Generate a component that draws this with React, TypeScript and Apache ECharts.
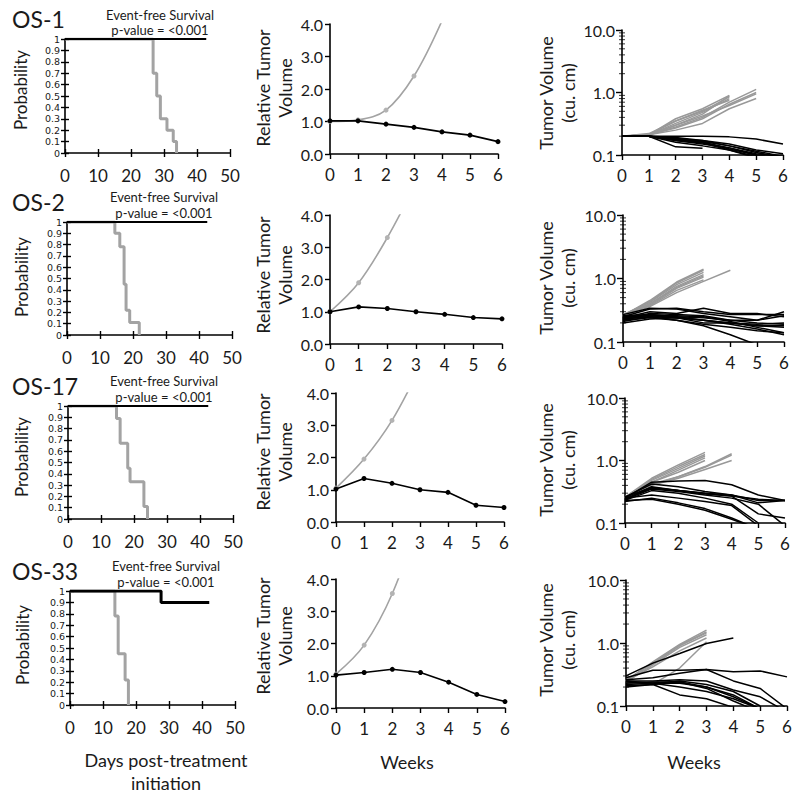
import React, { useEffect, useRef } from "react";
import * as echarts from "echarts";

const FONT = "Lato, 'Open Sans', sans-serif";
const WIDE = "'DejaVu Sans', sans-serif";
const TXT = "#1a1a1a";
const GRAY = "#a3a3a3";

const models = ["OS-1", "OS-2", "OS-17", "OS-33"];
const weeks = [0, 1, 2, 3, 4, 5, 6];
const kmTicks = [0, 10, 20, 30, 40, 50];

// Kaplan-Meier: [day, probability]
const kmControl1 = [[0, 1], [26.7, 0.7], [27.8, 0.5], [28.9, 0.3], [30.9, 0.2], [32.8, 0.1], [33.8, 0]];
const kmTreated1 = [[0, 1], [42.8, 1]];
const kmControl2 = [[0, 1], [14.5, 0.9], [16, 0.78], [17.3, 0.45], [17.9, 0.22], [19, 0.11], [21.9, 0]];
const kmTreated2 = [[0, 1], [42.5, 1]];
const kmControl3 = [[0, 1], [14.7, 0.89], [15.8, 0.67], [18.1, 0.45], [18.8, 0.33], [23, 0.11], [24.1, 0]];
const kmTreated3 = [[0, 1], [42.5, 1]];
const kmControl4 = [[0, 1], [13.6, 0.78], [14.6, 0.45], [16.7, 0.22], [17.7, 0]];
const kmTreated4 = [[0, 1], [27.6, 0.9], [42.2, 0.9]];

// Relative tumor volume by week
const rtvControl1 = [1.0, 1.05, 1.35, 2.4, 4.1];
const rtvTreated1 = [1.02, 1.02, 0.92, 0.82, 0.68, 0.58, 0.38];
const rtvControl2 = [1.0, 1.9, 3.3, 5.0];
const rtvTreated2 = [1.0, 1.15, 1.1, 1.0, 0.92, 0.82, 0.78];
const rtvControl3 = [1.05, 1.95, 3.15, 4.8];
const rtvTreated3 = [1.02, 1.35, 1.2, 1.0, 0.92, 0.52, 0.45];
const rtvControl4 = [1.05, 1.95, 3.55, 6.0];
const rtvTreated4 = [1.02, 1.1, 1.2, 1.1, 0.8, 0.42, 0.2];

// Individual tumor volumes (cu. cm) by week
const tvControl1 = [
  [0.2, 0.21, 0.38, 0.55, 0.9],
  [0.2, 0.21, 0.35, 0.5, 0.85],
  [0.2, 0.21, 0.32, 0.48, 0.8],
  [0.2, 0.21, 0.3, 0.45, 0.88],
  [0.2, 0.22, 0.35, 0.52, 0.75],
  [0.2, 0.21, 0.28, 0.4, 0.7, 1.12],
  [0.2, 0.21, 0.27, 0.38, 0.65, 1.0],
  [0.2, 0.21, 0.25, 0.32, 0.55, 0.8],
  [0.2, 0.21, 0.3, 0.42, 0.62, 0.95],
];
const tvTreated1 = [
  [0.2, 0.2, 0.2, 0.2, 0.195, 0.18, 0.15],
  [0.2, 0.2, 0.19, 0.17, 0.15, 0.12, 0.105],
  [0.2, 0.2, 0.135, 0.128],
  [0.2, 0.2, 0.17, 0.15, 0.13, 0.1, 0.09],
  [0.2, 0.2, 0.18, 0.16, 0.13, 0.105, 0.095],
  [0.2, 0.2, 0.16, 0.14, 0.12, 0.095],
  [0.2, 0.2, 0.18, 0.17, 0.14, 0.11, 0.09],
  [0.2, 0.2, 0.175, 0.16, 0.125, 0.1],
  [0.2, 0.2, 0.185, 0.165, 0.14, 0.115, 0.095],
  [0.2, 0.2, 0.17, 0.155, 0.12, 0.09],
];
const tvControl2 = [
  [0.26, 0.45, 0.88, 1.4],
  [0.26, 0.43, 0.85, 1.35],
  [0.27, 0.42, 0.8, 1.25],
  [0.25, 0.4, 0.75, 1.15],
  [0.26, 0.4, 0.72, 1.1],
  [0.25, 0.38, 0.7, 1.05],
  [0.26, 0.37, 0.65, 0.95],
  [0.27, 0.36, 0.6, 0.9, 1.35],
];
const tvTreated2 = [
  [0.25, 0.33, 0.34, 0.3, 0.27, 0.27, 0.27],
  [0.27, 0.34, 0.33, 0.28, 0.25, 0.22, 0.3],
  [0.24, 0.3, 0.28, 0.34, 0.28, 0.28, 0.25],
  [0.23, 0.28, 0.27, 0.26, 0.22, 0.22, 0.26],
  [0.22, 0.27, 0.25, 0.24, 0.22, 0.2, 0.19],
  [0.21, 0.25, 0.24, 0.22, 0.2, 0.18, 0.17],
  [0.25, 0.26, 0.26, 0.25, 0.21, 0.17, 0.14],
  [0.26, 0.27, 0.25, 0.22, 0.19, 0.16, 0.13],
  [0.22, 0.24, 0.22, 0.19, 0.17, 0.15, 0.14],
  [0.23, 0.25, 0.22, 0.18, 0.13, 0.09],
  [0.2, 0.23, 0.24, 0.22, 0.2, 0.19, 0.2],
  [0.24, 0.26, 0.24, 0.2, 0.2, 0.18, 0.18],
];
const tvControl3 = [
  [0.26, 0.52, 0.85, 1.35],
  [0.25, 0.5, 0.8, 1.25],
  [0.25, 0.48, 0.75, 1.18],
  [0.24, 0.45, 0.7, 1.1],
  [0.26, 0.45, 0.65, 1.0],
  [0.25, 0.42, 0.55, 0.8, 1.28],
  [0.24, 0.4, 0.55, 0.78, 1.22],
  [0.25, 0.4, 0.52, 0.72, 1.0],
];
const tvTreated3 = [
  [0.25, 0.45, 0.47, 0.48, 0.41, 0.28, 0.23],
  [0.26, 0.42, 0.38, 0.32, 0.28, 0.23, 0.23],
  [0.24, 0.38, 0.33, 0.3, 0.27, 0.24, 0.23],
  [0.26, 0.37, 0.33, 0.29, 0.27, 0.14, 0.12],
  [0.24, 0.35, 0.32, 0.28, 0.25, 0.2, 0.09],
  [0.23, 0.33, 0.3, 0.25, 0.2, 0.1],
  [0.22, 0.25, 0.21, 0.17, 0.12, 0.08],
  [0.23, 0.24, 0.2, 0.16, 0.115, 0.08],
  [0.25, 0.28, 0.25, 0.22, 0.19, 0.09],
  [0.24, 0.36, 0.33, 0.3, 0.28, 0.21, 0.23],
];
const tvControl4 = [
  [0.25, 0.5, 0.95, 1.6],
  [0.25, 0.48, 0.92, 1.5],
  [0.26, 0.47, 0.9, 1.45],
  [0.24, 0.45, 0.85, 1.35],
  [0.25, 0.42, 0.75, 1.2],
  [0.24, 0.22, 0.4, 1.05],
];
const tvTreated4 = [
  [0.3, 0.48, 0.68, 0.98, 1.2],
  [0.28, 0.37, 0.37, 0.38, 0.35, 0.36, 0.29],
  [0.26, 0.28, 0.33, 0.38, 0.25, 0.19, 0.09],
  [0.25, 0.25, 0.26, 0.25, 0.18, 0.14, 0.08],
  [0.24, 0.23, 0.25, 0.22, 0.17, 0.1],
  [0.23, 0.24, 0.24, 0.2, 0.15, 0.09],
  [0.22, 0.23, 0.23, 0.2, 0.14, 0.09],
  [0.21, 0.22, 0.24, 0.19, 0.12, 0.08],
  [0.2, 0.22, 0.15, 0.13, 0.095],
  [0.25, 0.23, 0.2, 0.17, 0.13, 0.09],
];
const logMinorTicks = [0.2, 0.3, 0.4, 0.5, 0.6, 0.7, 0.8, 0.9, 2, 3, 4, 5, 6, 7, 8, 9];

const kmControls = [kmControl1, kmControl2, kmControl3, kmControl4];
const kmTreateds = [kmTreated1, kmTreated2, kmTreated3, kmTreated4];
const rtvControls = [rtvControl1, rtvControl2, rtvControl3, rtvControl4];
const rtvTreateds = [rtvTreated1, rtvTreated2, rtvTreated3, rtvTreated4];
const tvControls = [tvControl1, tvControl2, tvControl3, tvControl4];
const tvTreateds = [tvTreated1, tvTreated2, tvTreated3, tvTreated4];

// layout (left, top, right, bottom) in px
const KM_RECTS = [[65, 39, 230, 153], [67, 222, 232, 335], [68, 406, 233, 519], [70, 591, 235, 705]];
const MID_RECTS = [[330, 24, 498, 154], [330, 215, 502, 344], [336, 393, 504, 522], [336, 579, 505, 708]];
const RT_RECTS = [[622, 30, 783, 155], [623, 215, 784, 342], [625, 398, 785, 523], [626, 580, 787, 706]];
const OS_Y = [19, 202, 386, 571];
const EFS_POS = [[160, 15, 30], [164, 197, 213], [164, 381, 397], [166, 566, 582]];
const PROB_POS = [[20, 90], [21, 277], [21, 457], [22, 645]];
const RTV_Y = [88, 275, 452, 636];
const TV_Y = [93, 278, 460, 640];

function buildOption() {
  const grid: any[] = [];
  const xAxis: any[] = [];
  const yAxis: any[] = [];
  const series: any[] = [];
  const graphic: any[] = [];

  const axLine = { show: true, lineStyle: { color: "#000", width: 1.6 } };
  const tick = (len: number, inside = false) => ({
    show: true, length: len, inside, lineStyle: { color: "#000", width: 1.4 },
  });
  const lbl = (size: number, margin: number, fmt?: any, extra: any = {}) => ({
    show: true, fontSize: size, fontFamily: FONT, color: TXT, margin, formatter: fmt,
    showMinLabel: true, showMaxLabel: true, ...extra,
  });

  const addGrid = (r: number[]) => {
    grid.push({ left: r[0], top: r[1], width: r[2] - r[0], height: r[3] - r[1], containLabel: false });
    return grid.length - 1;
  };

  for (let i = 0; i < 4; i++) {
    // ---------- Kaplan-Meier ----------
    const g1 = addGrid(KM_RECTS[i]);
    const xi = xAxis.length;
    xAxis.push({
      type: "value", gridIndex: g1, min: 0, max: 50, interval: 10,
      axisLine: axLine, axisTick: tick(4), splitLine: { show: false },
      axisLabel: lbl(17, 14, (v: number) => (kmTicks.includes(v) ? String(v) : "")),
    });
    xAxis.push({
      type: "value", gridIndex: g1, min: 0, max: 50, interval: 10, position: "bottom",
      axisLine: { show: false }, axisTick: tick(4, true), axisLabel: { show: false }, splitLine: { show: false },
    });
    const yi = yAxis.length;
    yAxis.push({
      type: "value", gridIndex: g1, min: 0, max: 1, interval: 0.1,
      axisLine: axLine, axisTick: tick(4), splitLine: { show: false },
      axisLabel: lbl(9.5, 5, (v: number) => String(Math.round(v * 10) / 10), {
        fontFamily: WIDE, lineHeight: 10, hideOverlap: false,
      }),
    });
    yAxis.push({
      type: "value", gridIndex: g1, min: 0, max: 1, interval: 0.1, position: "left",
      axisLine: { show: false }, axisTick: tick(4, true), axisLabel: { show: false }, splitLine: { show: false },
    });
    series.push({
      type: "line", xAxisIndex: xi, yAxisIndex: yi, step: "end", data: kmControls[i],
      showSymbol: false, symbol: "none", lineStyle: { color: GRAY, width: 3 }, z: 2, silent: true,
    });
    series.push({
      type: "line", xAxisIndex: xi, yAxisIndex: yi, step: "end", data: kmTreateds[i],
      showSymbol: false, symbol: "none", lineStyle: { color: "#000", width: i === 3 ? 3 : 1.8 }, z: 3, silent: true,
    });

    // ---------- Relative tumor volume ----------
    const g2 = addGrid(MID_RECTS[i]);
    const xi2 = xAxis.length;
    xAxis.push({
      type: "value", gridIndex: g2, min: 0, max: 6, interval: 1,
      axisLine: axLine, axisTick: tick(5), splitLine: { show: false }, axisLabel: lbl(17, 12),
    });
    const yi2 = yAxis.length;
    yAxis.push({
      type: "value", gridIndex: g2, min: 0, max: 4, interval: 1,
      axisLine: axLine, axisTick: tick(5), splitLine: { show: false },
      axisLabel: lbl(16, 7, (v: number) => v.toFixed(1)),
    });
    series.push({
      type: "line", xAxisIndex: xi2, yAxisIndex: yi2, smooth: 0.35,
      data: rtvControls[i].map((v, k) => [weeks[k], v]),
      symbol: "circle", symbolSize: 5, itemStyle: { color: "#b3b3b3" },
      lineStyle: { color: GRAY, width: 1.6 }, z: 2, silent: true,
    });
    series.push({
      type: "line", xAxisIndex: xi2, yAxisIndex: yi2,
      data: rtvTreateds[i].map((v, k) => [weeks[k], v]),
      symbol: "circle", symbolSize: 5, itemStyle: { color: "#000" },
      lineStyle: { color: "#000", width: 1.6 }, z: 3, silent: true,
    });

    // ---------- Tumor volume (log) ----------
    const g3 = addGrid(RT_RECTS[i]);
    const xi3 = xAxis.length;
    xAxis.push({
      type: "value", gridIndex: g3, min: 0, max: 6, interval: 1,
      axisLine: axLine, axisTick: tick(5), splitLine: { show: false }, axisLabel: lbl(17, 12),
    });
    const yi3 = yAxis.length;
    yAxis.push({
      type: "log", logBase: 10, gridIndex: g3, min: 0.1, max: 10,
      axisLine: axLine, axisTick: tick(6), splitLine: { show: false },
      axisLabel: lbl(16, 7, (v: number) => v.toFixed(1)),
    });
    series.push({
      type: "scatter", xAxisIndex: xi3, yAxisIndex: yi3, clip: false, silent: true,
      data: logMinorTicks.map((v) => [0, v]), symbol: "rect", symbolSize: [6, 1],
      itemStyle: { color: "#000" }, z: 5,
    });
    tvControls[i].forEach((arr) => {
      series.push({
        type: "line", xAxisIndex: xi3, yAxisIndex: yi3, data: arr.map((v, k) => [weeks[k], v]),
        showSymbol: false, symbol: "none", lineStyle: { color: "#999", width: 1.5 }, z: 2, silent: true,
      });
    });
    tvTreateds[i].forEach((arr) => {
      series.push({
        type: "line", xAxisIndex: xi3, yAxisIndex: yi3, data: arr.map((v, k) => [weeks[k], v]),
        showSymbol: false, symbol: "none", lineStyle: { color: "#000", width: 1.5 }, z: 3, silent: true,
      });
    });

    // ---------- texts ----------
    graphic.push({
      type: "text", x: 12, y: OS_Y[i],
      style: { text: models[i], fontSize: 23, lineHeight: 20, fontFamily: FONT, fill: TXT, align: "left", verticalAlign: "middle" },
    });
    graphic.push({
      type: "text", x: EFS_POS[i][0], y: EFS_POS[i][1],
      style: { text: "Event-free Survival", fontSize: 13, fontFamily: FONT, fill: TXT, align: "center", verticalAlign: "middle" },
    });
    graphic.push({
      type: "text", x: EFS_POS[i][0], y: EFS_POS[i][2],
      style: { text: "p-value = <0.001", fontSize: 13, fontFamily: FONT, fill: TXT, align: "center", verticalAlign: "middle" },
    });
    graphic.push({
      type: "text", x: PROB_POS[i][0], y: PROB_POS[i][1], rotation: Math.PI / 2,
      style: { text: "Probability", fontSize: 17, fontFamily: FONT, fill: TXT, align: "center", verticalAlign: "middle" },
    });
    graphic.push({
      type: "text", x: 274, y: RTV_Y[i], rotation: Math.PI / 2,
      style: { text: "Relative Tumor\nVolume", fontSize: 18, lineHeight: 22, fontFamily: FONT, fill: TXT, align: "center", verticalAlign: "middle" },
    });
    graphic.push({
      type: "text", x: 557, y: TV_Y[i], rotation: Math.PI / 2,
      style: { text: "Tumor Volume\n(cu. cm)", fontSize: 18, lineHeight: 22, fontFamily: FONT, fill: TXT, align: "center", verticalAlign: "middle" },
    });
  }

  graphic.push({
    type: "text", x: 166, y: 771,
    style: { text: "Days post-treatment\ninitiation", fontSize: 18, lineHeight: 23, fontFamily: FONT, fill: TXT, align: "center", verticalAlign: "middle" },
  });
  graphic.push({
    type: "text", x: 407, y: 762,
    style: { text: "Weeks", fontSize: 18, fontFamily: FONT, fill: TXT, align: "center", verticalAlign: "middle" },
  });
  graphic.push({
    type: "text", x: 694, y: 762,
    style: { text: "Weeks", fontSize: 18, fontFamily: FONT, fill: TXT, align: "center", verticalAlign: "middle" },
  });

  return {
    animation: false,
    backgroundColor: "#fff",
    textStyle: { fontFamily: FONT },
    grid, xAxis, yAxis, series, graphic,
  };
}

export default function App() {
  const ref = useRef<HTMLDivElement>(null);
  useEffect(() => {
    if (!ref.current) return;
    const chart = echarts.init(ref.current, undefined, { renderer: "svg" });
    chart.setOption(buildOption() as any);
    return () => chart.dispose();
  }, []);
  return (
    <div
      ref={ref}
      style={{ position: "fixed", left: 0, top: 0, width: 800, height: 798, background: "#fff" }}
    />
  );
}
